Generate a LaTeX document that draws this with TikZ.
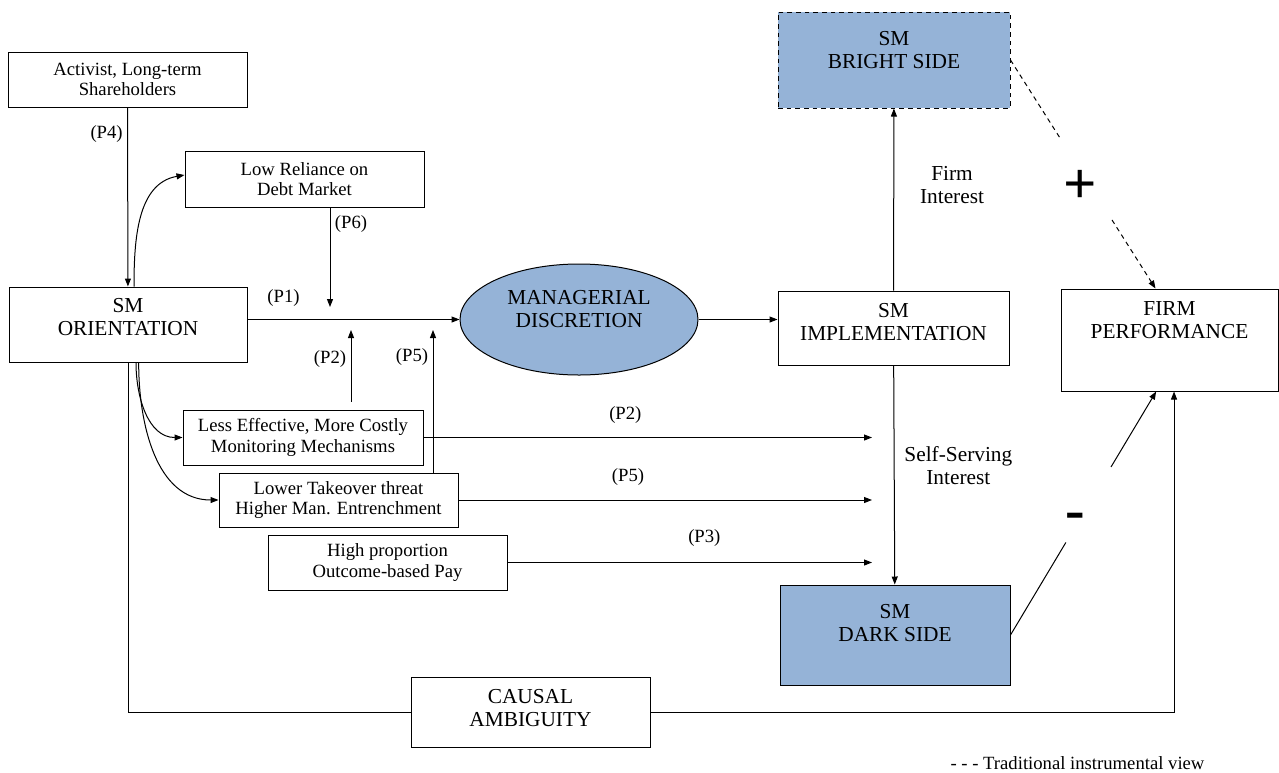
\documentclass[tikz,border=0pt]{standalone}
\usepackage{fontspec}
\setmainfont{Liberation Serif}
\usetikzlibrary{arrows.meta, calc, shapes.geometric}
\definecolor{smblue}{RGB}{149,179,215}

\begin{document}
\begin{tikzpicture}[x=0.75pt, y=-0.75pt, ->, >={Triangle[length=6pt,width=4.5pt]}, line width=0.75pt,
    font=\fontsize{14}{15.5}\selectfont,
    box/.style={draw, align=center, inner sep=2pt},
    big/.style={font=\fontsize{16}{17.25}\selectfont},
    side/.style={box, big, fill=smblue},
    note/.style={big, align=center},
    sign/.style={font=\fontsize{44}{44}\selectfont\bfseries},
    dsh/.style={dash pattern=on 3.5pt off 3pt}]
    \useasboundingbox (0,0) rectangle (1279,772);
    \node[box, minimum width=179.25pt, minimum height=41.25pt] (act) at (127.5,79.5) {Activist, Long-term\\Shareholders};
    \node[box, minimum width=179.25pt, minimum height=42pt] (debt) at (304.5,179) {Low Reliance on\\Debt Market};
    \node[box, big, minimum width=178.5pt, minimum height=56.25pt, text depth=12pt] (ori) at (128,324.5) {SM\\ORIENTATION};
    \node[box, minimum width=180pt, minimum height=41.25pt] (mon) at (303,437.5) {Less Effective, More Costly\\Monitoring Mechanisms};
    \node[box, minimum width=179.25pt, minimum height=40.5pt] (tko) at (338.5,500) {Lower Takeover threat\\Higher Man. Entrenchment};
    \node[box, minimum width=179.25pt, minimum height=41.25pt] (pay) at (387.5,562.5) {High proportion\\Outcome-based Pay};
    \node[draw, ellipse, big, align=center, fill=smblue, inner sep=1pt, minimum width=178.5pt, minimum height=83.25pt, text depth=16.5pt] (md) at (579,319.5) {MANAGERIAL\\DISCRETION};
    \node[box, big, minimum width=173.25pt, minimum height=55.5pt, text depth=9.75pt] (imp) at (893.5,328) {SM\\IMPLEMENTATION};
    \node[side, dsh, minimum width=174pt, minimum height=72pt, text depth=15pt] (bs) at (894,60) {SM\\BRIGHT SIDE};
    \node[side, minimum width=172.5pt, minimum height=75pt, text depth=18pt] (ds) at (895,635) {SM\\DARK SIDE};
    \node[box, big, minimum width=162.75pt, minimum height=76.5pt, text depth=30pt] (fp) at (1169.5,340) {FIRM\\PERFORMANCE};
    \node[box, big, minimum width=179.25pt, minimum height=52.5pt, text depth=6.75pt] (ca) at (530.5,712) {CAUSAL\\AMBIGUITY};
    \node[sign] (plus) at (1080,187) {+};
    \node[sign] (minus) at (1075,521) {-};
    \node (key) at (1077.5,763) {- - - Traditional instrumental view};
    \coordinate (p6) at (330,307);
    \coordinate (p2) at (351,330);
    \coordinate (p5) at (433,330);
    \coordinate (tip) at (872,0);
    \coordinate (fpt) at ([xshift=-10.5pt]fp.north);
    \coordinate (fpb) at ([xshift=-10pt]fp.south);
    \draw (act) -- node[left, pos=.15] {(P4)} (ori);
    \draw ([xshift=4.5pt]ori.north) to[out=90, in=190] ([yshift=3pt]debt.west);
    \draw (debt.south -| p6) -- node[right, pos=.17] {(P6)} (p6);
    \draw (ori.east |- md) -- node[above=6pt, pos=.17] {(P1)} (md);
    \draw ([yshift=6pt]mon.north -| p2) -- node[left, pos=.6] {(P2)} (p2);
    \draw (tko.north -| p5) -- node[left, pos=.81] {(P5)} (p5);
    \draw ([xshift=6pt]ori.south) to[out=-90, in=180] (mon.west);
    \draw ([xshift=8pt]ori.south) to[out=-90, in=180] (tko.west);
    \draw (mon.east) -- node[above=7pt, pos=.45] {(P2)} (mon.east -| tip);
    \draw (tko.east) -- node[above=7pt, pos=.41] {(P5)} (tko.east -| tip);
    \draw (pay.east) -- node[above=8pt, pos=.54] {(P3)} (pay.east -| tip);
    \draw (md.east) -- (md.east -| imp.west);
    \draw (imp) -- node[note, right=16pt, pos=.58] {Firm\\Interest} (bs);
    \draw (imp) -- node[note, right=4pt, pos=.455] {Self-Serving\\Interest} (ds);
    \draw[-] (ori.south) |- (ca.west);
    \draw (ca.east) -| ([xshift=3.4pt]fp.south);
    \draw[-, dsh] (bs.east) -- ($(bs.east)!.35!(fpt)$);
    \draw[dsh] ($(bs.east)!.70!(fpt)$) -- (fpt);
    \draw[-] (ds.east) -- ($(ds.east)!.38!(fpb)$);
    \draw ($(ds.east)!.69!(fpb)$) -- (fpb);
\end{tikzpicture}
\end{document}
